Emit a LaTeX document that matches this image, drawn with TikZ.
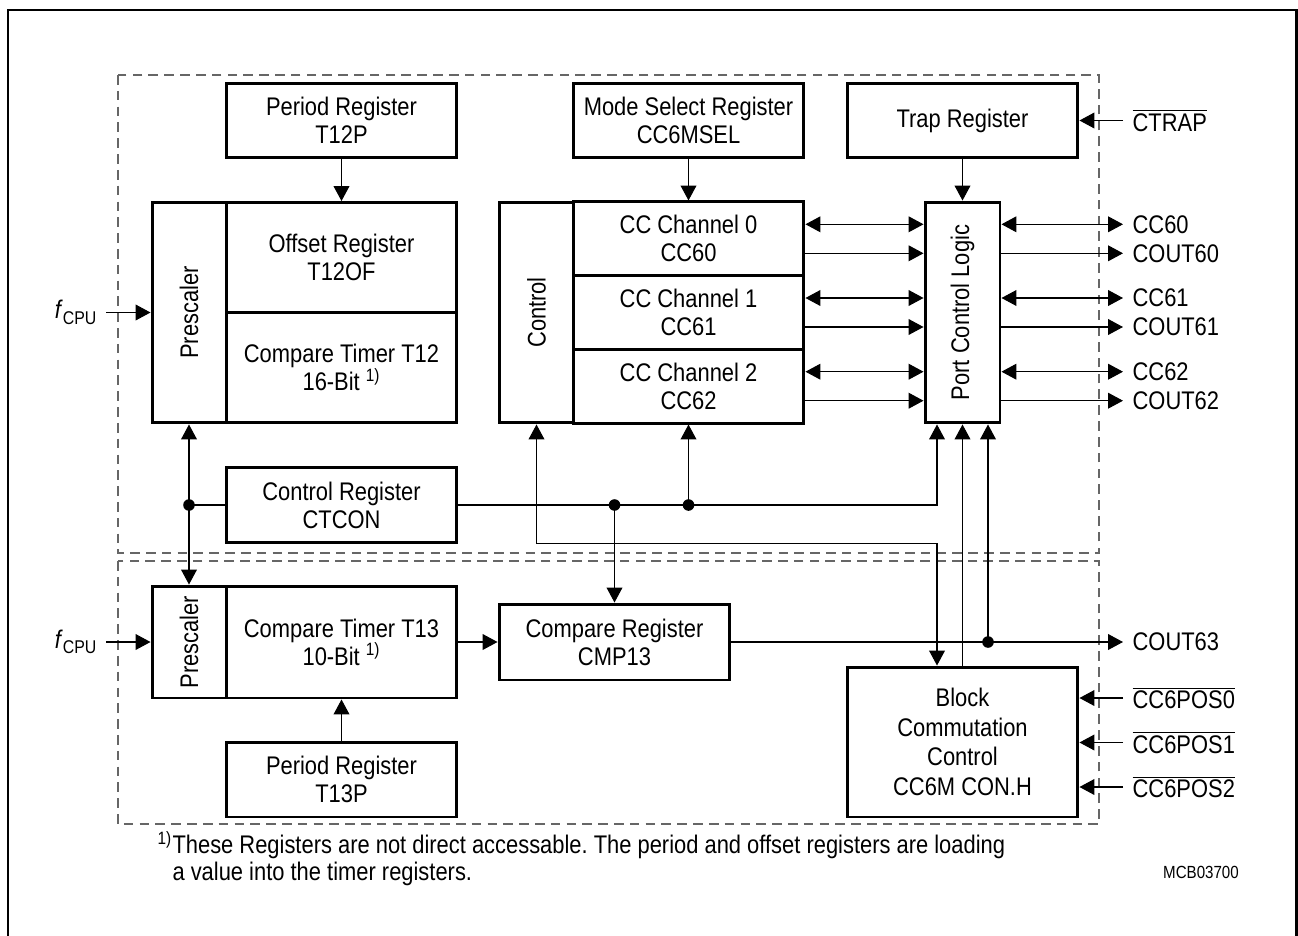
\documentclass[tikz,border=0pt]{standalone}
\usepackage{fontspec}
\setmainfont[FakeStretch=0.86]{Liberation Sans}
\usetikzlibrary{arrows.meta}
\frenchspacing

\begin{document}
\begin{tikzpicture}[x=0.02cm, y=-0.02cm, line width=0.6pt,
        >={Triangle[length=8.5pt, width=9pt]},
        every node/.style={font=\fontsize{14.5}{16}\selectfont},
        reg/.style={draw, line width=1.7pt, minimum width=4.62cm, minimum height=1.5cm, align=center, inner sep=0pt},
        narrow/.style={draw, line width=1.7pt, minimum width=1.48cm, minimum height=4.42cm, inner sep=0pt},
        sig/.style={anchor=west, inner sep=0pt, outer xsep=5.5pt},
        sigl/.style={anchor=east, inner sep=0pt, outer xsep=5.5pt},
        dbox/.style={draw=black!60, dash pattern=on 5.5pt off 3.5pt, line width=0.7pt}]
        \useasboundingbox (0,0) rectangle (1298,936);

        % Frame and dashed areas
        \draw[line width=1.7pt] (8,945) -- (8,10) -- (1296,10) -- (1296,945);
        \draw[dbox] (118,75) rectangle (1099,553);
        \draw[dbox] (118,561) rectangle (1099,824);

        % Nodes
        \node[reg] (t12p) at (341.5,120.5) {Period Register\\T12P};
        \node[narrow] (pre12) at (189,312.5) {\rotatebox{90}{Prescaler}};
        \node[reg, minimum height=2.2cm] (off12) at (341.5,257.5) {Offset Register\\T12OF};
        \node[reg, minimum height=2.2cm] (cmp12) at (341.5,367.5) {Compare Timer T12\\16-Bit \textsuperscript{1)}};
        \node[reg] (msel) at (688.5,120.5) {Mode Select Register\\CC6MSEL};
        \node[narrow] (ctrl) at (536.5,312.5) {\rotatebox{90}{Control}};
        \node[reg, minimum height=1.473cm] (ch0) at (688.5,238.8) {CC Channel 0\\CC60};
        \node[reg, minimum height=1.473cm] (ch1) at (688.5,312.5) {CC Channel 1\\CC61};
        \node[reg, minimum height=1.473cm] (ch2) at (688.5,386.2) {CC Channel 2\\CC62};
        \node[reg] (trap) at (962.5,120.5) {Trap Register};
        \node[narrow, minimum width=1.5cm] (pcl) at (962.5,312.5) {\rotatebox{90}{Port Control Logic}};
        \node[reg] (ctcon) at (341.5,505) {Control Register\\CTCON};
        \node[narrow, minimum height=2.24cm] (pre13) at (189,642) {\rotatebox{90}{Prescaler}};
        \node[reg, minimum height=2.24cm] (t13) at (341.5,642) {Compare Timer T13\\10-Bit \textsuperscript{1)}};
        \node[reg] (t13p) at (341.5,779.5) {Period Register\\T13P};
        \node[reg, minimum height=1.52cm] (cmp13) at (614.5,642) {Compare Register\\CMP13};
        \node[reg, minimum height=3cm, font=\fontsize{14.5}{16.8}\selectfont] (bcc) at (962.5,742) {Block\\Commutation\\Control\\CC6M CON.H};

        % Signal names
        \node[sigl] (fa) at (106,312.5) {\textit{f}\raisebox{-0.4ex}{\fontsize{10.5}{10}\selectfont CPU}};
        \node[sigl] (fb) at (106,642) {\textit{f}\raisebox{-0.4ex}{\fontsize{10.5}{10}\selectfont CPU}};
        \node[sig] (ctrap) at (1123,120.5) {$\overline{\mbox{CTRAP}}$};
        \node[sig] (cc60) at (1123,224.3) {CC60};
        \node[sig] (cout60) at (1123,253.3) {COUT60};
        \node[sig] (cc61) at (1123,298) {CC61};
        \node[sig] (cout61) at (1123,327) {COUT61};
        \node[sig] (cc62) at (1123,371.7) {CC62};
        \node[sig] (cout62) at (1123,400.7) {COUT62};
        \node[sig] (cout63) at (1123,642) {COUT63};
        \node[sig] (pos0) at (1123,698) {$\overline{\mbox{CC6POS0}}$};
        \node[sig] (pos1) at (1123,742.5) {$\overline{\mbox{CC6POS1}}$};
        \node[sig] (pos2) at (1123,787) {$\overline{\mbox{CC6POS2}}$};

        % Note
        \node[anchor=west, align=left, inner sep=0pt, font=\fontsize{14.5}{15.5}\selectfont] (note) at (157,858.5)
            {\makebox[0.3cm][l]{\textsuperscript{1)}}These Registers are not direct accessable. The period and offset registers are loading\\
             \hspace*{0.3cm}a value into the timer registers.};
        \node[inner sep=0pt, font=\fontsize{10}{11}\selectfont] (code) at (1201,872) {MCB03700};

        % Joints
        \coordinate (d1) at (pre12.south |- ctcon.west);
        \coordinate (d2) at (cmp13.north |- ctcon.east);
        \coordinate (d3) at (ch2.south |- ctcon.east);
        \coordinate (d4) at (988,642);

        % Lines
        \draw[->] (t12p) -- (off12);
        \draw[->] (msel) -- (ch0);
        \draw[->] (trap) -- (pcl);
        \draw[->] (ctrap.west) -- (trap.east |- ctrap.west);
        \draw[->] (fa.east) -- (pre12.west |- fa.east);
        \draw[->] (fb.east) -- (pre13.west |- fb.east);
        \draw[->] (t13p) -- (t13);
        \draw[->] (t13) -- (cmp13);

        \draw[<->] (ch0.east |- cc60.west) -- (pcl.west |- cc60.west);
        \draw[->] (ch0.east |- cout60.west) -- (pcl.west |- cout60.west);
        \draw[<->] (ch1.east |- cc61.west) -- (pcl.west |- cc61.west);
        \draw[->] (ch1.east |- cout61.west) -- (pcl.west |- cout61.west);
        \draw[<->] (ch2.east |- cc62.west) -- (pcl.west |- cc62.west);
        \draw[->] (ch2.east |- cout62.west) -- (pcl.west |- cout62.west);

        \draw[<->] (pcl.east |- cc60.west) -- (cc60.west);
        \draw[->] (pcl.east |- cout60.west) -- (cout60.west);
        \draw[<->] (pcl.east |- cc61.west) -- (cc61.west);
        \draw[->] (pcl.east |- cout61.west) -- (cout61.west);
        \draw[<->] (pcl.east |- cc62.west) -- (cc62.west);
        \draw[->] (pcl.east |- cout62.west) -- (cout62.west);

        \draw[<->] (pre12) -- (pre13);
        \draw (d1) -- (ctcon);
        \draw[->] (ctcon.east) -| ([xshift=-0.51cm]pcl.south);
        \draw[->] (d2) -- (cmp13);
        \draw[->] (d3) -- (ch2);
        \draw[<->] (ctrl.south) -- ++(0,119) -| ([xshift=-0.51cm]bcc.north);
        \draw[->] (bcc.north) -- (pcl.south);
        \draw[->] (d4) -- (d4 |- pcl.south);
        \draw[->] (cmp13.east) -- (cout63.west);

        \draw[->] (pos0.west) -- (bcc.east |- pos0.west);
        \draw[->] (pos1.west) -- (bcc.east |- pos1.west);
        \draw[->] (pos2.west) -- (bcc.east |- pos2.west);

        \fill (d1) circle (3.3pt) (d2) circle (3.3pt) (d3) circle (3.3pt) (d4) circle (3.3pt);
    \end{tikzpicture}
\end{document}
